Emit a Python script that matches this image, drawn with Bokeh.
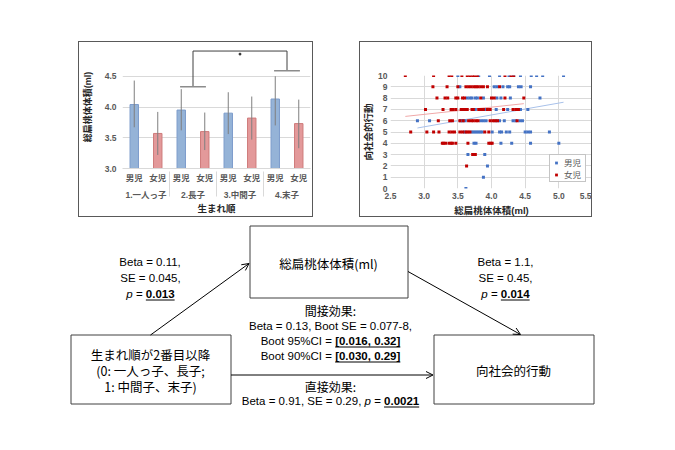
import numpy as np
from bokeh.plotting import figure
from bokeh.layouts import column, row
from bokeh.models import (FactorRange, Range1d, ColumnDataSource, FixedTicker,
                          PrintfTickFormatter, Legend, LegendItem, Arrow, OpenHead, Spacer)
from bokeh.core.properties import value
from bokeh.embed import file_html
from bokeh.resources import INLINE

JP = "Noto Sans CJK JP"
LAT = "Liberation Sans"
MIX = "Liberation Sans, Noto Sans CJK JP"   # Latin metrics, CJK glyphs by fallback

# ---------------- bar chart data ----------------
groups = ["1.一人っ子", "2.長子", "3.中間子", "4.末子"]
sexes = ["男児", "女児"]
boy_mean = [4.04, 3.95, 3.90, 4.13]
boy_hi = [4.43, 4.29, 4.24, 4.50]
boy_lo = [3.67, 3.62, 3.56, 3.70]
girl_mean = [3.57, 3.60, 3.82, 3.73]
girl_hi = [3.92, 3.91, 4.17, 4.12]
girl_lo = [3.22, 3.30, 3.47, 3.33]
bar_ticks = [3.0, 3.5, 4.0, 4.5]

# ---------------- scatter data ----------------
scores = [10, 9, 8, 7, 6, 5, 4, 3, 2, 1, 0]
boy_x_rows = [
    [3.50, 3.81, 3.97, 4.12, 4.26, 4.33, 4.43, 4.59, 4.67, 4.76, 5.07],
    [3.53, 4.04, 4.08, 4.17, 4.24, 4.27, 4.40, 4.44, 4.58],
    [3.64, 3.68, 3.71, 3.76, 3.79, 3.88, 4.08, 4.14, 4.28, 4.72],
    [3.76, 3.91, 4.07, 4.24, 4.43, 4.54],
    [2.90, 3.08, 3.54, 3.57, 3.61, 3.84, 3.88, 3.92, 4.07, 4.12, 4.19, 4.32, 4.36, 4.42, 4.46],
    [3.60, 3.71, 3.74, 3.77, 3.80, 3.83, 3.86, 4.01, 4.12, 4.15, 4.22, 4.27, 4.50, 4.54, 4.58, 4.86],
    [3.74, 3.77, 4.14, 4.30, 4.58, 5.00],
    [3.65, 3.90],
    [3.94],
    [3.88],
    [3.62],
]
girl_x_rows = [
    [2.72, 3.14, 3.37, 3.41, 3.56, 3.64, 3.68, 3.72, 3.75, 3.79, 4.20, 4.29, 4.33],
    [3.13, 3.34, 3.50, 3.62, 3.66, 3.70, 3.74, 3.77, 3.80, 3.84, 3.88, 3.94, 4.12],
    [3.19, 3.31, 3.35, 3.47, 3.50, 3.57, 3.60, 3.84, 4.00, 4.04, 4.20, 4.48],
    [3.02, 3.28, 3.40, 3.43, 3.47, 3.55, 3.58, 3.61, 3.64, 3.71, 3.73, 3.81, 3.84, 3.88,
     3.94, 3.98, 4.18, 4.32, 4.36, 4.40],
    [3.21, 3.38, 3.42, 3.53, 3.58, 3.66, 3.70, 3.73, 3.77, 3.80, 3.98, 4.02, 4.05, 4.09, 4.38],
    [2.80, 3.04, 3.14, 3.22, 3.37, 3.41, 3.45, 3.53, 3.57, 3.62, 3.65, 3.68, 3.90, 3.96],
    [3.27, 3.29, 3.32, 3.37, 3.40, 3.42, 3.47, 3.65, 3.96, 3.99, 4.01],
    [3.72, 3.76],
    [3.63],
    [],
    [],
]
# linear trend lines as drawn in the picture: [slope, intercept]
boy_trend = [1.05, 2.31]
girl_trend = [0.64, 4.64]
sc_xticks = [2.5, 3.0, 3.5, 4.0, 4.5, 5.0, 5.5]
sc_yticks = list(range(0, 11))

BLUE_BAR, BLUE_EDGE = "#95b3d7", "#7d9ccb"
RED_BAR, RED_EDGE = "#e3999a", "#cf7b7b"
BLUE_PT, RED_PT = "#4472c4", "#c00000"
GRID = "#d9d9d9"
TXT = "#595959"

# ================= bar chart =================
factors = [(g, s) for g in groups for s in sexes]
means, his, los, fills, edges = [], [], [], [], []
for i in range(len(groups)):
    means += [boy_mean[i], girl_mean[i]]
    his += [boy_hi[i], girl_hi[i]]
    los += [boy_lo[i], girl_lo[i]]
    fills += [BLUE_BAR, RED_BAR]
    edges += [BLUE_EDGE, RED_EDGE]
bsrc = ColumnDataSource(dict(x=factors, top=means, hi=his, lo=los, fill=fills, edge=edges))

bar = figure(x_range=FactorRange(*factors, group_padding=0, factor_padding=0, range_padding=0),
             y_range=Range1d(3.0, 5.0), width=235, height=176, title=None,
             output_backend="svg", toolbar_location=None, frame_align=False,
             min_border_left=39, min_border_right=4, min_border_top=3, min_border_bottom=50,
             styles={"border": "1px solid #595959"})
bar.vbar(x="x", top="top", bottom=0, width=0.36, fill_color="fill", line_color="edge",
         line_width=1, source=bsrc)
bar.segment(x0="x", y0="lo", x1="x", y1="hi", line_color="#7f7f7f", line_width=1, source=bsrc)
# significance bracket between 2.長子 and 4.末子
bar.line(x=[3.0, 3.0, 7.0, 7.0], y=[4.33, 4.91, 4.91, 4.59], line_color="#404040", line_width=1)
bar.segment(x0=[2.45, 6.45], y0=[4.33, 4.59], x1=[3.55, 7.55], y1=[4.33, 4.59],
            line_color="#8c8c8c", line_width=1.5)
bar.scatter(x=[5.0], y=[4.86], marker="square", size=1.6, color="#303030")

bar.outline_line_color = None
bar.xgrid.visible = False
bar.ygrid.grid_line_color = GRID
bar.ygrid.ticker = FixedTicker(ticks=bar_ticks[1:])
bar.yaxis.ticker = FixedTicker(ticks=bar_ticks)
bar.yaxis.formatter = PrintfTickFormatter(format="%.1f")
bar.yaxis.axis_line_color = None
bar.yaxis.major_tick_line_color = None
bar.yaxis.major_tick_out = 0
bar.yaxis.minor_tick_line_color = None
bar.yaxis.major_label_text_font = LAT
bar.yaxis.major_label_text_font_size = "8.5px"
bar.yaxis.major_label_text_font_style = "bold"
bar.yaxis.major_label_text_color = TXT
bar.yaxis.major_label_standoff = 6
bar.yaxis.axis_label = "総扁桃体体積(ml)"
bar.yaxis.axis_label_text_font = MIX
bar.yaxis.axis_label_text_font_size = "9px"
bar.yaxis.axis_label_text_font_style = "bold"
bar.yaxis.axis_label_text_color = "#262626"
bar.yaxis.axis_label_standoff = 9

bar.xaxis.axis_line_color = GRID
bar.xaxis.major_tick_line_color = None
bar.xaxis.major_tick_out = 0
bar.xaxis.minor_tick_line_color = None
bar.xaxis.major_label_text_font = MIX
bar.xaxis.major_label_text_font_size = "8.5px"
bar.xaxis.major_label_text_font_style = "bold"
bar.xaxis.major_label_text_color = TXT
bar.xaxis.major_label_standoff = 4
bar.xaxis.group_text_font = MIX
bar.xaxis.group_text_font_size = "8.5px"
bar.xaxis.group_text_font_style = "bold"
bar.xaxis.group_text_color = TXT
bar.xaxis.separator_line_color = GRID
bar.xaxis.separator_line_width = 1
bar.xaxis.axis_label = "生まれ順"
bar.xaxis.axis_label_text_font = MIX
bar.xaxis.axis_label_text_font_size = "9.5px"
bar.xaxis.axis_label_text_font_style = "bold"
bar.xaxis.axis_label_text_color = "#262626"
bar.xaxis.axis_label_standoff = 0

# ================= scatter chart =================
boy_x, boy_y, girl_x, girl_y = [], [], [], []
for s, bx, gx in zip(scores, boy_x_rows, girl_x_rows):
    boy_x += bx
    boy_y += [s] * len(bx)
    girl_x += gx
    girl_y += [s] * len(gx)

# the end tick labels 2.5 / 5.5 add about 6 px to each side border
scat = figure(x_range=Range1d(2.5, 5.5), y_range=Range1d(0, 10), width=233, height=176,
              title=None, output_backend="svg", toolbar_location=None, frame_align=False,
              min_border_left=25, min_border_right=1, min_border_top=33, min_border_bottom=30,
              styles={"border": "1px solid #595959"})
scat.outline_line_color = None
for g in (scat.xgrid, scat.ygrid):
    g.grid_line_color = GRID
scat.xgrid.ticker = FixedTicker(ticks=sc_xticks)
scat.ygrid.ticker = FixedTicker(ticks=sc_yticks)
scat.xaxis.ticker = FixedTicker(ticks=sc_xticks)
scat.yaxis.ticker = FixedTicker(ticks=sc_yticks)
scat.xaxis.formatter = PrintfTickFormatter(format="%.1f")
for ax in (scat.xaxis, scat.yaxis):
    ax.axis_line_color = None
    ax.major_tick_line_color = None
    ax.major_tick_out = 0
    ax.minor_tick_line_color = None
    ax.major_label_text_font = LAT
    ax.major_label_text_font_size = "8.5px"
    ax.major_label_text_font_style = "bold"
    ax.major_label_text_color = TXT
    ax.axis_label_text_font = MIX
    ax.axis_label_text_font_size = "9.5px"
    ax.axis_label_text_font_style = "bold"
    ax.axis_label_text_color = "#262626"
scat.xaxis.major_label_standoff = 4
scat.yaxis.major_label_standoff = 3
scat.xaxis.axis_label = "総扁桃体体積(ml)"
scat.yaxis.axis_label = "向社会的行動"
scat.xaxis.axis_label_standoff = 3
scat.yaxis.axis_label_standoff = 1

for xs, (k, b), col in ((boy_x, boy_trend, "#a8c1ea"), (girl_x, girl_trend, "#f0a8a8")):
    tx = [min(xs), max(xs)]
    scat.line(x=tx, y=[k * t + b for t in tx], line_color=col, line_width=1)

r_boy = scat.scatter(x=boy_x, y=boy_y, marker="square", size=3, fill_color=BLUE_PT, line_color=None)
r_girl = scat.scatter(x=girl_x, y=girl_y, marker="square", size=3, fill_color=RED_PT, line_color=None)
leg = Legend(items=[LegendItem(label="男児", renderers=[r_boy]),
                    LegendItem(label="女児", renderers=[r_girl])],
             location="bottom_right", margin=6, padding=1, spacing=0,
             label_text_font=MIX, label_text_font_size="8.5px", label_text_color=TXT,
             label_height=7, glyph_height=7, glyph_width=10, label_standoff=3,
             border_line_color="#8c8c8c", border_line_width=1, background_fill_color="white")
scat.add_layout(leg)

# ================= mediation diagram =================
diag = figure(width=667, height=223, x_range=Range1d(0, 667), y_range=Range1d(442, 219),
              title=None, output_backend="svg", toolbar_location=None, min_border=0,
              x_axis_location=None, y_axis_location=None)
diag.grid.visible = False
diag.outline_line_color = None

box_l = [249.5, 70.5, 433.5]
box_r = [407.5, 230.5, 593.5]
box_t = [227.5, 336.5, 336.5]
box_b = [299.5, 405.5, 405.5]
diag.quad(left=box_l, right=box_r, top=box_t, bottom=box_b, fill_color="white",
          line_color="#404040", line_width=1)

def jtext(x, y, s, size="12.5px"):
    diag.text(x=[x], y=[y], text=[s], text_font=value(JP), text_font_size=size,
              text_align="center", text_baseline="middle", text_color="black")

jtext(328, 265, "総扁桃体体積(ml)")
jtext(150, 356, "生まれ順が2番目以降")
jtext(150, 372, "(0: 一人っ子、長子;")
jtext(150, 388, "1: 中間子、末子)")
jtext(513, 372, "向社会的行動")
jtext(330, 312, "間接効果:", "12px")
jtext(330, 388, "直接効果:", "12px")

for xs, ys, xe, ye in ((150, 336.5, 248.5, 265), (407.5, 273, 520, 336), (230.5, 376.5, 432.5, 376.5)):
    diag.add_layout(Arrow(end=OpenHead(size=7, line_width=1, line_color="black"),
                          x_start=xs, y_start=ys, x_end=xe, y_end=ye,
                          line_color="black", line_width=1))

REG = {' ': .278, '=': .584, '.': .278, ',': .278, '-': .333, '%': .889, '[': .278, ']': .278,
       'B': .667, 'e': .556, 't': .278, 'a': .556, 'S': .667, 'E': .667, 'p': .556,
       'o': .556, 'C': .722, 'I': .278}
BOLD = {' ': .278, '.': .278, ',': .278, '[': .333, ']': .333}

def tw(s, style):
    tbl = BOLD if "b" in style else REG
    return sum(tbl.get(c, .556) for c in s)

def rich(cx, cy, segs, size=11.5):
    widths = [tw(t, st) * size for t, st in segs]
    x = cx - sum(widths) / 2
    for (t, st), w in zip(segs, widths):
        fs = "italic" if "i" in st else ("bold" if "b" in st else "normal")
        lead = (len(t) - len(t.lstrip(" "))) * .278 * size
        core = t.strip(" ")
        diag.text(x=[x + lead], y=[cy], text=[core], text_font=value(LAT),
                  text_font_size=f"{size}px", text_font_style=fs, text_align="left",
                  text_baseline="middle", text_color="black")
        if "u" in st:
            diag.segment(x0=[x + lead], y0=[cy + 6.5], x1=[x + w], y1=[cy + 6.5],
                         line_color="black", line_width=1)
        x += w

rich(150, 263, [("Beta = 0.11,", "n")])
rich(150, 279, [("SE = 0.045,", "n")])
rich(150, 295, [("p", "i"), (" = ", "n"), ("0.013", "bu")])
rich(505, 263, [("Beta = 1.1,", "n")])
rich(505, 279, [("SE = 0.45,", "n")])
rich(505, 295, [("p", "i"), (" = ", "n"), ("0.014", "bu")])
rich(330, 327, [("Beta = 0.13, Boot SE = 0.077-8,", "n")])
rich(330, 342, [("Boot 95%CI = ", "n"), ("[0.016, 0.32]", "bu")])
rich(330, 357, [("Boot 90%CI = ", "n"), ("[0.030, 0.29]", "bu")])
rich(330, 402, [("Beta = 0.91, SE = 0.29, ", "n"), ("p", "i"), (" = ", "n"), ("0.0021", "bu")])

layout = column(Spacer(height=41),
                row(Spacer(width=78), bar, Spacer(width=46), scat),
                diag)

open("out.html", "w").write(file_html(layout, INLINE))
